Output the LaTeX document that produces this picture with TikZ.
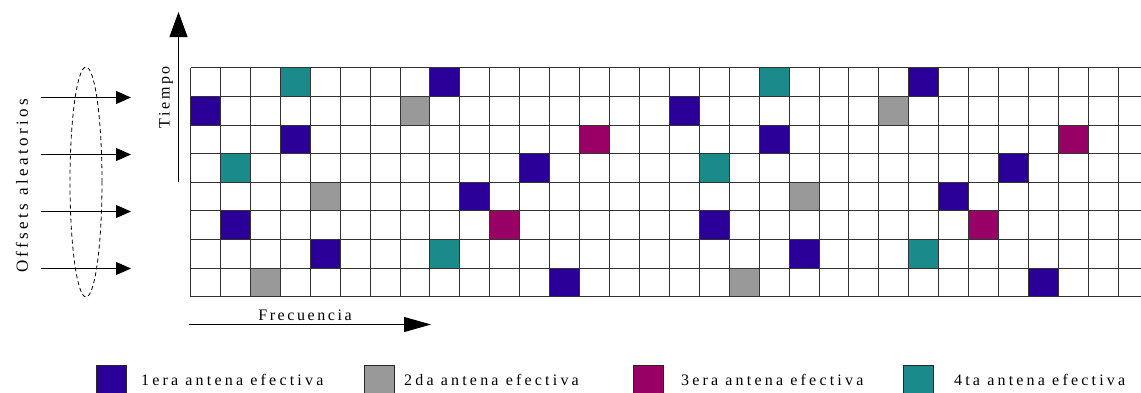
\documentclass[tikz,border=0pt]{standalone}
\usepackage{fontspec}
\usepackage{xcolor}
\usepackage{tikz}
\usetikzlibrary{arrows.meta,positioning}
\newfontfamily\legfont[LetterSpace=20]{Liberation Serif}
\newfontfamily\axfont[LetterSpace=16]{Liberation Serif}
\definecolor{antblue}{RGB}{42,0,153}
\definecolor{antgray}{RGB}{153,153,153}
\definecolor{antmag}{RGB}{153,0,102}
\definecolor{antteal}{RGB}{26,138,138}

\begin{document}
\begin{tikzpicture}[x=1pt,y=-1pt,
    gridline/.style={line width=1.2pt, black!80},
    axis/.style={line width=0.9pt, -{Triangle[length=25pt,width=18pt]}},
    offarrow/.style={line width=0.9pt, -{Triangle[length=15pt,width=13pt]}},
    lab/.style={font=\axfont\fontsize{16}{19}\selectfont, inner sep=0pt},
    leglab/.style={font=\legfont\fontsize{16}{19}\selectfont, inner sep=0pt},
    legbox/.style={draw=black!85, line width=0.9pt, minimum width=30pt,
      minimum height=34pt, inner sep=0pt, anchor=north west}]
  \useasboundingbox (0,0) rectangle (1141,392);
  \clip (0,0) rectangle (1141,392);

  % coloured cells, the pattern repeats every 16 columns
  \foreach \c/\r/\col in {3/0/antteal, 8/0/antblue, 0/1/antblue, 7/1/antgray,
      3/2/antblue, 13/2/antmag, 1/3/antteal, 11/3/antblue, 4/4/antgray,
      9/4/antblue, 1/5/antblue, 10/5/antmag, 4/6/antblue, 8/6/antteal,
      2/7/antgray, 12/7/antblue}
    \foreach \p in {0,16}
      \fill[\col] ({round(190+29.93*(\c+\p))+0.5},{round(67.3+28.6*\r)+0.5})
        rectangle ({round(190+29.93*(\c+\p+1))+0.5},{round(67.3+28.6*(\r+1))+0.5});

  % grid
  \foreach \k [evaluate=\k as \gx using {round(190+29.93*\k)+0.5}] in {0,...,31}
    \draw[gridline] (\gx,67.5) -- (\gx,296.5);
  \foreach \j [evaluate=\j as \gy using {round(67.3+28.6*\j)+0.5}] in {0,...,8}
    \draw[gridline] (190.5,\gy) -- (1141,\gy);

  % axes
  \coordinate (tbot) at (178.5,182);
  \coordinate (ttop) at (178.5,12);
  \draw[axis] (tbot) -- (ttop);
  \node[lab, rotate=90] (tiempo) at (166,97) {Tiempo};
  \coordinate (fleft) at (189,324.5);
  \coordinate (fright) at (431,324.5);
  \draw[axis, -{Triangle[length=27pt,width=15pt]}] (fleft) -- (fright);
  \node[lab] (frec) at (305,315) {Frecuencia};

  % random offsets
  \foreach \j/\y in {1/97.5,2/154.5,3/211.5,4/268.5} {
    \coordinate (os\j) at (41,\y);
    \coordinate (oe\j) at (131,\y);
    \draw[offarrow] (os\j) -- (oe\j);
  }
  \draw[dash pattern=on 4pt off 3pt, line width=0.8pt] (86,182)
    ellipse [x radius=16pt, y radius=115pt];
  \node[leglab, font=\legfont\fontsize{17}{20}\selectfont, rotate=90] (offs)
    at (22,186) {Offsets aleatorios};

  % legend
  \foreach \i/\x/\g/\col/\txt in {1/96/14/antblue/1era antena efectiva,
      2/364/9/antgray/2da antena efectiva, 3/633/17/antmag/3era antena efectiva,
      4/903/20/antteal/4ta antena efectiva} {
    \node[legbox, fill=\col] (lg\i) at (\x,365) {};
    \node[leglab, right=\g pt of lg\i, yshift=3pt] (lt\i) {\txt};
  }
\end{tikzpicture}
\end{document}
